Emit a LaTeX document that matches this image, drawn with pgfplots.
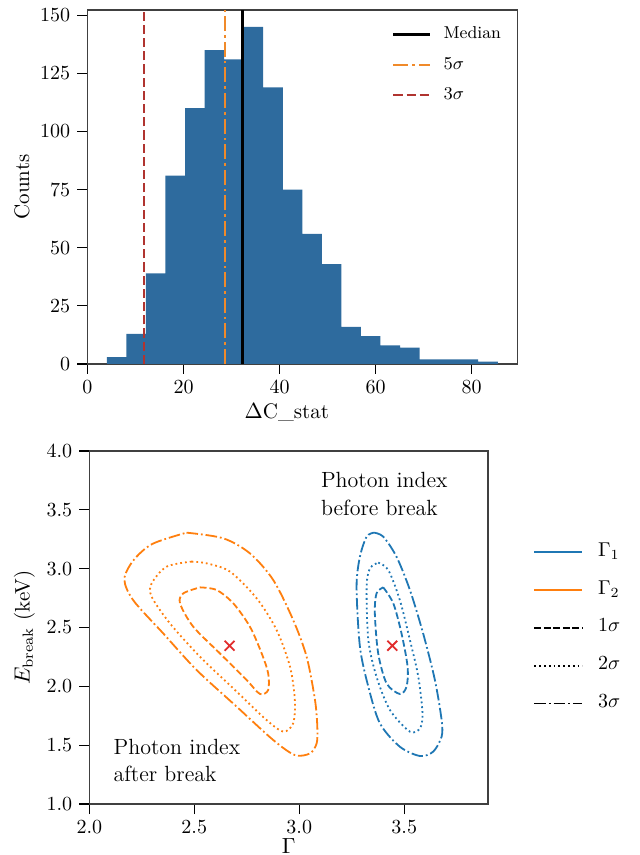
\documentclass[border=0pt]{standalone}
\usepackage{fontspec}
\usepackage{pgfplots}
\pgfplotsset{compat=1.18}
\definecolor{histblue}{RGB}{46,107,158}
\definecolor{ofive}{RGB}{240,138,42}
\definecolor{rthree}{RGB}{176,52,48}
\definecolor{cblue}{RGB}{31,119,180}
\definecolor{corange}{RGB}{255,127,14}
\definecolor{xred}{RGB}{225,45,45}
\begin{document}
\begin{tikzpicture}[x=1pt,y=1pt]
\pgfplotsset{
  every axis/.append style={
    scale only axis,
    axis line style={black!75, line width=0.6pt},
    tick align=outside,
    major tick length=5pt,
    every tick/.style={black, line width=0.6pt},
    xtick pos=left, ytick pos=left,
    tick label style={font=\fontsize{10}{12}\selectfont},
    label style={font=\fontsize{10.5}{12}\selectfont},
  }
}
% ---------------- top histogram ----------------
\begin{axis}[
  at={(43.65pt,245.5pt)}, anchor=south west,
  width=215pt, height=177pt,
  xmin=-0.04, xmax=89.5, ymin=0, ymax=152.25,
  xtick={0,20,40,60,80},
  ytick={0,25,50,75,100,125,150},
  xlabel={$\Delta$C\_stat},
  ylabel={Counts},
  xlabel style={at={(axis description cs:0.464,-0.138)}, anchor=center},
  ylabel style={at={(axis description cs:-0.152,0.5)}, anchor=center},
  legend style={at={(axis description cs:0.708,0.962)}, anchor=north west,
    draw=none, fill=none, inner sep=0pt, column sep=5pt, row sep=4.65pt,
    font=\fontsize{8.6}{10}\selectfont,
    nodes={inner sep=1pt, text height=6.5pt, text depth=2pt}},
  legend cell align=left,
  legend image code/.code={\draw[#1] (0pt,0pt) -- (18.5pt,0pt);},
]
\addplot[ybar interval, fill=histblue, draw=none, forget plot]
coordinates {
(4.03,3) (8.10,13) (12.17,39) (16.24,81) (20.31,110) (24.38,135) (28.45,131)
(32.52,145) (36.59,119) (40.66,75) (44.73,56) (48.80,43) (52.87,16) (56.94,12)
(61.01,8) (65.08,7) (69.15,2) (73.22,2) (77.29,2) (81.36,1) (85.43,0)
};
\addplot[black, line width=1.2pt] coordinates {(32.27,0) (32.27,152.25)};
\addlegendentry{Median}
\addplot[ofive, line width=1pt, dash pattern=on 7.5pt off 2pt on 1.3pt off 2pt] coordinates {(28.73,0) (28.73,152.25)};
\addlegendentry{$5\sigma$}
\addplot[rthree, line width=1pt, dash pattern=on 4.6pt off 2pt] coordinates {(11.87,0) (11.87,152.25)};
\addlegendentry{$3\sigma$}
\end{axis}
% ---------------- bottom contours ----------------
\begin{axis}[
  at={(44.65pt,25.5pt)}, anchor=south west,
  width=199.35pt, height=176.5pt,
  xmin=2.0, xmax=3.899, ymin=1.0, ymax=4.0,
  xtick={2.0,2.5,3.0,3.5},
  ytick={1.0,1.5,2.0,2.5,3.0,3.5,4.0},
  xticklabel style={/pgf/number format/fixed, /pgf/number format/precision=1, /pgf/number format/fixed zerofill},
  yticklabel style={/pgf/number format/fixed, /pgf/number format/precision=1, /pgf/number format/fixed zerofill},
  xlabel={$\Gamma$},
  ylabel={$E_{\mathrm{break}}$ (keV)},
  xlabel style={at={(axis description cs:0.5,-0.097)}, anchor=north, inner sep=0pt},
  ylabel style={at={(axis description cs:-0.163,0.5)}, anchor=center},
  legend style={at={(axis description cs:1.113,0.748)}, anchor=north west,
    draw=none, fill=none, inner sep=0pt, column sep=6.3pt, row sep=6.9pt,
    font=\fontsize{10}{12}\selectfont,
    nodes={inner sep=1pt, text height=7pt, text depth=3pt}},
  legend cell align=left,
  legend image code/.code={\draw[#1] (0pt,0pt) -- (24pt,0pt);},
]
\addlegendimage{color=cblue, line width=1pt}
\addlegendentry{$\Gamma_1$}
\addlegendimage{color=corange, line width=1pt}
\addlegendentry{$\Gamma_2$}
\addlegendimage{black, line width=0.9pt, dash pattern=on 3.3pt off 1.45pt}
\addlegendentry{$1\sigma$}
\addlegendimage{black, line width=0.9pt, dash pattern=on 0.9pt off 1.5pt}
\addlegendentry{$2\sigma$}
\addlegendimage{black, line width=0.9pt, dash pattern=on 5.8pt off 1.45pt on 0.9pt off 1.45pt}
\addlegendentry{$3\sigma$}
% orange (Gamma_2)
\addplot[corange, line width=0.9pt, smooth, dash pattern=on 5.8pt off 1.45pt on 0.9pt off 1.45pt, forget plot] coordinates {
(2.463,3.306) (2.638,3.258) (2.765,3.13) (2.876,2.904) (2.971,2.564) (3.035,2.252) (3.075,1.884) (3.086,1.657) (3.083,1.516) (3.051,1.43) (2.979,1.416) (2.876,1.544) (2.702,1.827) (2.511,2.139) (2.352,2.45) (2.21,2.73) (2.167,2.909) (2.21,3.07) (2.30,3.21) (2.463,3.306)
};
\addplot[corange, line width=0.9pt, smooth, dash pattern=on 0.9pt off 1.5pt, forget plot] coordinates {
(2.487,3.06) (2.559,3.045) (2.67,2.975) (2.797,2.748) (2.892,2.479) (2.956,2.167) (2.979,1.884) (2.971,1.686) (2.924,1.615) (2.844,1.714) (2.702,1.955) (2.527,2.252) (2.384,2.535) (2.297,2.762) (2.297,2.875) (2.368,3.017) (2.487,3.06)
};
\addplot[corange, line width=0.9pt, smooth, dash pattern=on 3.3pt off 1.45pt, forget plot] coordinates {
(2.527,2.841) (2.606,2.819) (2.686,2.705) (2.765,2.507) (2.821,2.28) (2.852,2.11) (2.852,1.969) (2.813,1.935) (2.749,2.054) (2.622,2.28) (2.495,2.507) (2.432,2.705) (2.448,2.79) (2.527,2.841)
};
% blue (Gamma_1)
\addplot[cblue, line width=0.9pt, smooth, dash pattern=on 5.8pt off 1.45pt on 0.9pt off 1.45pt, forget plot] coordinates {
(3.356,3.306) (3.4,3.272) (3.463,3.102) (3.527,2.819) (3.59,2.45) (3.646,2.054) (3.678,1.714) (3.678,1.572) (3.638,1.445) (3.575,1.408) (3.479,1.487) (3.384,1.686) (3.329,1.997) (3.289,2.337) (3.273,2.847) (3.289,3.102) (3.321,3.272) (3.356,3.306)
};
\addplot[cblue, line width=0.9pt, smooth, dash pattern=on 0.9pt off 1.5pt, forget plot] coordinates {
(3.376,3.051) (3.424,2.989) (3.479,2.734) (3.527,2.394) (3.567,2.082) (3.587,1.771) (3.575,1.643) (3.527,1.615) (3.432,1.799) (3.368,2.082) (3.329,2.394) (3.321,2.847) (3.337,3.003) (3.376,3.051)
};
\addplot[cblue, line width=0.9pt, smooth, dash pattern=on 3.3pt off 1.45pt, forget plot] coordinates {
(3.4,2.841) (3.448,2.705) (3.487,2.45) (3.516,2.167) (3.511,1.997) (3.479,1.935) (3.416,2.025) (3.376,2.28) (3.36,2.62) (3.368,2.79) (3.4,2.841)
};
% best fits
\addplot[only marks, mark=x, mark size=3.5pt, xred, line width=0.9pt, forget plot] coordinates {(2.668,2.345) (3.443,2.345)};
\node[anchor=north west, inner sep=0pt, align=left, font=\fontsize{11}{13.8}\selectfont] at (axis cs:3.102,3.823) {Photon index\\before break};
\node[anchor=north west, inner sep=0pt, align=left, font=\fontsize{11}{13.8}\selectfont] at (axis cs:2.114,1.558) {Photon index\\after break};
\end{axis}
\pgfresetboundingbox
\path[use as bounding box] (0pt,0pt) rectangle (319.5pt,427.5pt);
\end{tikzpicture}
\end{document}
